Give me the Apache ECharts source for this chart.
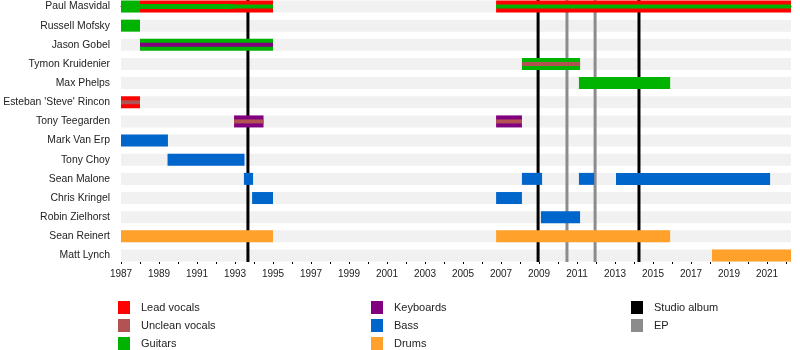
<!DOCTYPE html>
<html><head><meta charset="utf-8">
<script src="https://cdn.jsdelivr.net/npm/echarts@6/dist/echarts.min.js"></script>
<style>html,body{margin:0;padding:0;background:#fff}#c{width:800px;height:350px}</style>
</head><body><div id="c"></div>
<script>
const names = ['Paul Masvidal','Russell Mofsky','Jason Gobel','Tymon Kruidenier','Max Phelps',"Esteban 'Steve' Rincon",'Tony Teegarden','Mark Van Erp','Tony Choy','Sean Malone','Chris Kringel','Robin Zielhorst','Sean Reinert','Matt Lynch'];
const startYear = 1987;
const endYear = 2022.26;
const tickLabels = [1987,1989,1991,1993,1995,1997,1999,2001,2003,2005,2007,2009,2011,2013,2015,2017,2019,2021];
const minorTickYears = [1987,1988,1989,1990,1991,1992,1993,1994,1995,1996,1997,1998,1999,2000,2001,2002,2003,2004,2005,2006,2007,2008,2009,2010,2011,2012,2013,2014,2015,2016,2017,2018,2019,2020,2021,2022];

// [row, start, end]
const leadVocals = [[0,1988,1995],[0,2006.74,2022.26],[5,1987,1988]];
const guitars = [[0,1987,1988],[1,1987,1988],[2,1988,1995],[3,2008.1,2011.16],[4,2011.1,2015.9]];
const keyboards = [[6,1992.95,1994.5],[6,2006.74,2008.1]];
const bass = [[7,1987,1989.47],[8,1989.45,1993.5],[9,1993.47,1993.95],[9,2008.1,2009.16],[9,2011.1,2011.9],[9,2013.05,2021.16],[10,1993.9,1995],[10,2006.74,2008.1],[11,2009.1,2011.16]];
const drums = [[12,1987,1995],[12,2006.74,2015.9],[13,2018.1,2022.26]];
// secondary roles (thin middle stripes)
const guitarsSecondary = [[0,1988,1995],[0,2006.74,2022.26]];
const guitarsSecondaryWide = [[0,1988,1992.9]];
const keyboardsSecondary = [[2,1988,1995]];
const uncleanSecondary = [[3,2008.1,2011.16],[5,1987,1988],[6,1992.95,1994.5],[6,2006.74,2008.1]];
const studioAlbums = [1993.68, 2008.95, 2014.26];
const eps = [2010.47, 2011.95];

const colors = {
  'Lead vocals':'#ff0000','Unclean vocals':'#b35252','Guitars':'#00b300',
  'Keyboards':'#800080','Bass':'#0066cc','Drums':'#ffa12b',
  'Studio album':'#000000','EP':'#8c8c8c'
};
const FONT = "'Liberation Sans', Arial, sans-serif";

function barSeries(name, data, h, z) {
  return {
    type:'custom', name, z, data, xAxisIndex:0, yAxisIndex:0,
    itemStyle:{color:colors[name]},
    encode:{x:[1,2], y:0},
    renderItem:(params, api) => {
      const s = api.coord([api.value(1), api.value(0)]);
      const e = api.coord([api.value(2), api.value(0)]);
      return {type:'rect', shape:{x:s[0], y:s[1]-h/2, width:e[0]-s[0], height:h}, style:{fill:colors[name]}};
    }
  };
}
function lineSeries(name, data) {
  return {
    type:'custom', name, z:2, data:data.map(v=>[v]), xAxisIndex:0, yAxisIndex:0,
    itemStyle:{color:colors[name]},
    encode:{x:0},
    renderItem:(params, api) => {
      const cs = params.coordSys;
      const p = api.coord([api.value(0), 0]);
      return {type:'rect', shape:{x:p[0]-1.5, y:cs.y, width:3, height:cs.height}, style:{fill:colors[name]}};
    }
  };
}
const bgData = names.map((n,i)=>[i,startYear,endYear]);

const legendCommon = {orient:'vertical', top:301, padding:0, itemWidth:12, itemHeight:13, itemGap:5, icon:'rect', selectedMode:false,
  textStyle:{fontSize:11, color:'#222', fontFamily:FONT, padding:[0,0,0,6]}};

const chart = echarts.init(document.getElementById('c'), null, {renderer:'canvas'});
chart.setOption({
  animation:false,
  textStyle:{fontFamily:FONT},
  grid:[{left:121, right:9, top:0, bottom:88, containLabel:false, outerBoundsMode:'none'},
        {left:121, right:9, top:0, bottom:88, containLabel:false, outerBoundsMode:'none'}],
  xAxis:[
    {type:'value', gridIndex:0, min:startYear, max:endYear,
     axisLine:{show:true, lineStyle:{color:'#000', width:1}},
     axisTick:{show:true, customValues:tickLabels, length:4, lineStyle:{color:'#000'}},
     axisLabel:{show:true, customValues:tickLabels, fontSize:10, color:'#222', margin:7, fontFamily:FONT, formatter:v=>String(v)},
     splitLine:{show:false}},
    {type:'value', gridIndex:1, min:startYear, max:endYear,
     axisLine:{show:false},
     axisTick:{show:true, customValues:minorTickYears, length:2, lineStyle:{color:'#000'}},
     axisLabel:{show:false}, splitLine:{show:false}}
  ],
  yAxis:[
    {type:'value', gridIndex:0, inverse:true, min:-0.34, max:13.34,
     axisLine:{show:false}, axisTick:{show:false}, splitLine:{show:false},
     axisLabel:{show:true, customValues:names.map((n,i)=>i), formatter:v=>names[Math.round(v)], fontSize:10.4, color:'#222', margin:11, fontFamily:FONT}},
    {type:'value', gridIndex:1, show:false, min:0, max:1}
  ],
  legend:[
    Object.assign({left:118, data:['Lead vocals','Unclean vocals','Guitars']}, legendCommon),
    Object.assign({left:371, data:['Keyboards','Bass','Drums']}, legendCommon),
    Object.assign({left:631, data:['Studio album','EP']}, legendCommon)
  ],
  series:[
    {type:'custom', name:'rows', z:1, data:bgData, xAxisIndex:0, yAxisIndex:0, encode:{x:[1,2], y:0}, silent:true,
     renderItem:(params, api) => {
       const s = api.coord([api.value(1), api.value(0)]);
       const e = api.coord([api.value(2), api.value(0)]);
       return {type:'rect', shape:{x:s[0], y:s[1]-6, width:e[0]-s[0], height:12}, style:{fill:'#f1f1f1'}};
     }},
    lineSeries('Studio album', studioAlbums),
    lineSeries('EP', eps),
    barSeries('Lead vocals', leadVocals, 12, 3),
    barSeries('Guitars', guitars, 12, 3),
    barSeries('Keyboards', keyboards, 12, 3),
    barSeries('Bass', bass, 12, 3),
    barSeries('Drums', drums, 12, 3),
    barSeries('Guitars', guitarsSecondaryWide, 5, 4),
    barSeries('Guitars', guitarsSecondary, 4, 4),
    barSeries('Keyboards', keyboardsSecondary, 4, 4),
    barSeries('Unclean vocals', uncleanSecondary, 4, 4)
  ]
});
</script></body></html>
